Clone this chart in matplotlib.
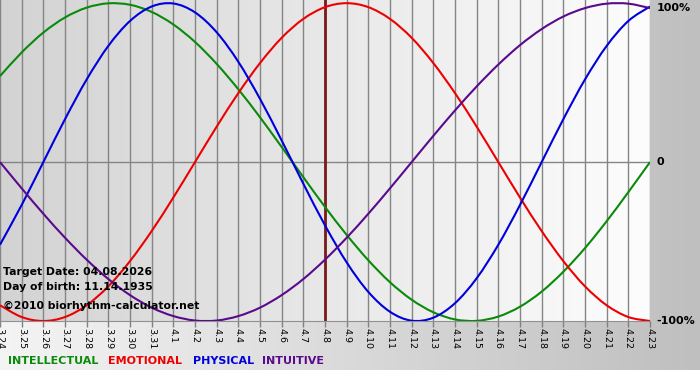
"""
Biorhythm chart (biorhythm-calculator.net style)
"""
import numpy as np
import matplotlib
matplotlib.use('Agg')
import matplotlib.pyplot as plt
from matplotlib.colors import LinearSegmentedColormap
from matplotlib.path import Path
from matplotlib.patches import PathPatch
import matplotlib.transforms as mtransforms

# 날짜 라벨 (3.24 ~ 4.23)
dates = ['3.24', '3.25', '3.26', '3.27', '3.28', '3.29', '3.30', '3.31',
         '4.1', '4.2', '4.3', '4.4', '4.5', '4.6', '4.7', '4.8', '4.9', '4.10',
         '4.11', '4.12', '4.13', '4.14', '4.15', '4.16', '4.17', '4.18', '4.19',
         '4.20', '4.21', '4.22', '4.23']
target_date = '4.8'

# 각 리듬 값 (-1 ~ 1)
physical = [-0.520, -0.270, 0.000, 0.270, 0.520, 0.731, 0.888, 0.979, 0.998,
            0.942, 0.817, 0.631, 0.398, 0.136, -0.136, -0.398, -0.631, -0.817,
            -0.942, -0.998, -0.979, -0.888, -0.731, -0.520, -0.270, 0.000,
            0.270, 0.520, 0.731, 0.888, 0.979]
emotional = [-0.901, -0.975, -1.000, -0.975, -0.901, -0.782, -0.623, -0.434,
             -0.223, 0.000, 0.223, 0.434, 0.623, 0.782, 0.901, 0.975, 1.000,
             0.975, 0.901, 0.782, 0.623, 0.434, 0.223, 0.000, -0.223, -0.434,
             -0.623, -0.782, -0.901, -0.975, -1.000]
intellectual = [0.541, 0.690, 0.815, 0.910, 0.972, 0.999, 0.990, 0.945, 0.866,
                0.756, 0.618, 0.458, 0.282, 0.095, -0.095, -0.282, -0.458,
                -0.618, -0.756, -0.866, -0.945, -0.990, -0.999, -0.972, -0.910,
                -0.815, -0.690, -0.541, -0.372, -0.189, 0.000]
intuitive = [0.000, -0.165, -0.325, -0.476, -0.614, -0.736, -0.837, -0.916,
             -0.969, -0.997, -0.997, -0.969, -0.916, -0.837, -0.736, -0.614,
             -0.476, -0.325, -0.165, 0.000, 0.165, 0.325, 0.476, 0.614, 0.736,
             0.837, 0.916, 0.969, 0.997, 0.997, 0.969]

info_lines = ['Target Date: 04.08.2026', 'Day of birth: 11.14.1935',
              '\u00a92010 biorhythm-calculator.net']
legend_names = ['INTELLECTUAL', 'EMOTIONAL', 'PHYSICAL', 'INTUITIVE']
legend_colors = ['#0a8a0a', '#ee0000', '#0000dd', '#5a0a8c']


def smooth_path(xs, ys):
    """점들을 지나는 부드러운 곡선 (Catmull-Rom -> Bezier)"""
    pts = np.column_stack([xs, ys]).astype(float)
    verts = [pts[0]]
    codes = [Path.MOVETO]
    n = len(pts)
    for i in range(n - 1):
        p0 = pts[max(i - 1, 0)]
        p1 = pts[i]
        p2 = pts[i + 1]
        p3 = pts[min(i + 2, n - 1)]
        c1 = p1 + (p2 - p0) / 6.0
        c2 = p2 - (p3 - p1) / 6.0
        verts += [c1, c2, p2]
        codes += [Path.CURVE4] * 3
    return Path(verts, codes)


W, H = 700, 380
fig = plt.figure(figsize=(W / 100, H / 100), dpi=100)

# 배경 그라데이션 (전체)
bg = fig.add_axes([0, 0, 1, 1])
bg_cmap = LinearSegmentedColormap.from_list('bg', ['#f4f4f4', '#bfbfbf'])
bg.imshow(np.linspace(0, 1, 256).reshape(1, -1), aspect='auto', cmap=bg_cmap,
          extent=[0, W, 0, H])
bg.axhspan(0, 10, color='white', lw=0)
bg.set_xlim(0, W)
bg.set_ylim(0, H)
bg.axis('off')

# 메인 플롯 영역
plot_left, plot_right, plot_top, plot_bottom = 0, 650, 0, 321
ax = fig.add_axes([plot_left / W, (H - plot_bottom) / H,
                   (plot_right - plot_left) / W, (plot_bottom - plot_top) / H])
x = np.arange(len(dates))
ymin, ymax = -1.0, 1.02
ax.set_xlim(0, len(dates) - 1)
ax.set_ylim(ymin, ymax)

area_cmap = LinearSegmentedColormap.from_list('area', ['#d3d3d3', '#fdfdfd'])
ax.imshow(np.linspace(0, 1, 256).reshape(1, -1), aspect='auto', cmap=area_cmap,
          extent=[0, len(dates) - 1, ymin, ymax], zorder=0)

# 그리드
for xi in x:
    ax.axvline(xi, color='#858585', lw=1, zorder=1)
ax.axhline(0, color='#858585', lw=1, zorder=1)

# 기준일 선
ax.axvline(dates.index(target_date), color='#7a1a1a', lw=2, zorder=2)

# 리듬 곡선
series = [intellectual, emotional, physical, intuitive]
for vals, col in zip(series, legend_colors):
    ax.add_patch(PathPatch(smooth_path(x, vals), facecolor='none',
                           edgecolor=col, lw=1.5, zorder=3))

# 축 설정
for side in ['top', 'left', 'right']:
    ax.spines[side].set_visible(False)
ax.spines['bottom'].set_color('#909090')
ax.set_xticks(x)
ax.set_xticklabels(dates)
ax.set_yticks([])
ax.tick_params(axis='x', direction='out', length=4, color='#808080', width=1,
               labelsize=6.8, labelrotation=270, pad=1)

# 오른쪽 라벨
trans = mtransforms.blended_transform_factory(ax.transAxes, ax.transData)
for val, lab in [(0.97, '100%'), (0, '0'), (-1, '-100%')]:
    ax.text(1.01, val, lab, transform=trans, fontsize=8, fontweight='bold',
            ha='left', va='center', clip_on=False)

# 정보 텍스트
for yy, txt in zip([272, 287, 306], info_lines):
    fig.text(3 / W, 1 - yy / H, txt, fontsize=7.8, fontweight='bold',
             ha='left', va='center', color='black')

# 하단 범례
lx = [8, 108, 193, 262]
for xx, name, col in zip(lx, legend_names, legend_colors):
    fig.text(xx / W, 1 - 361 / H, name, fontsize=8, fontweight='bold',
             ha='left', va='center', color=col)

fig.savefig('out.png', dpi=100)
plt.close(fig)
